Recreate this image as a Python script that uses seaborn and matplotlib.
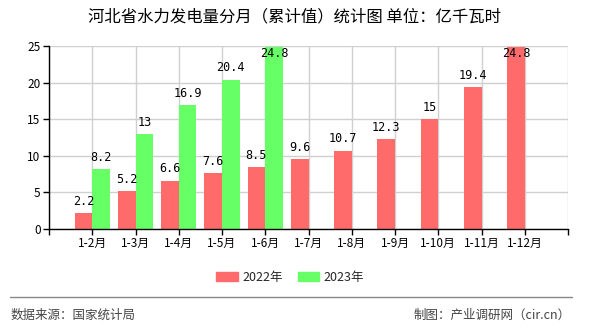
import matplotlib
matplotlib.use("Agg")
import matplotlib.pyplot as plt
from matplotlib.lines import Line2D
import seaborn as sns
import pandas as pd

periods = ["1-2月", "1-3月", "1-4月", "1-5月", "1-6月", "1-7月",
           "1-8月", "1-9月", "1-10月", "1-11月", "1-12月"]
values_2022 = [2.2, 5.2, 6.6, 7.6, 8.5, 9.6, 10.7, 12.3, 15, 19.4, 24.8]
values_2023 = [8.2, 13, 16.9, 20.4, 24.8]
series_names = ["2022年", "2023年"]
colors = ["#FF6A6A", "#66FF66"]

rows = []
for p, v in zip(periods, values_2022):
    rows.append({"period": p, "value": v, "year": series_names[0]})
for p, v in zip(periods, values_2023):
    rows.append({"period": p, "value": v, "year": series_names[1]})
df = pd.DataFrame(rows)

sns.set_theme(style="white")
plt.rcParams["font.family"] = ["Noto Sans CJK SC", "DejaVu Sans"]

fig = plt.figure(figsize=(5.9, 3.3), dpi=100)
ax = fig.add_axes([49 / 590, 1 - 229 / 330, (568 - 49) / 590, (229 - 46) / 330])

sns.barplot(data=df, x="period", y="value", hue="year", order=periods,
            hue_order=series_names, palette=colors, width=0.82,
            saturation=1, ax=ax, legend=False, zorder=3, linewidth=0,
            edgecolor="none")

# value labels above each bar, kept inside the plot area
for container, vals in zip(ax.containers, [values_2022, values_2023]):
    for rect, v in zip(container, vals):
        x = rect.get_x() + rect.get_width() / 2
        y = min(v + 1.6, 24.0)
        ax.text(x, y, f"{v:g}", ha="center", va="center", fontsize=8.5,
                color="black", zorder=4, family=["DejaVu Sans Mono"])

ax.set_xlim(-1, len(periods))
ax.set_ylim(0, 25)
ax.set_xticks(range(-1, len(periods) + 1))
ax.set_xticklabels([""] + periods + [""], fontsize=8.5)
ax.set_yticks([0, 5, 10, 15, 20, 25])
ax.set_yticklabels(["0", "5", "10", "15", "20", "25"], fontsize=8.5)
ax.set_xlabel("")
ax.set_ylabel("")
ax.grid(True, color="#D0D0D0", linewidth=1, zorder=0)
ax.set_axisbelow(True)
for side in ["top", "right"]:
    ax.spines[side].set_visible(False)
for side in ["left", "bottom"]:
    ax.spines[side].set_color("black")
    ax.spines[side].set_linewidth(1)
    ax.spines[side].set_zorder(5)
ax.tick_params(axis="both", direction="out", length=4, width=1,
               color="black", pad=2, labelcolor="black")
ax.tick_params(axis="x", bottom=True)
ax.tick_params(axis="y", left=True)

fig.text(295 / 590, 1 - 17 / 330, "河北省水力发电量分月（累计值）统计图 单位：亿千瓦时",
         ha="center", va="center", fontsize=11.8, color="black")

handles = [plt.Rectangle((0, 0), 1, 1, color=c) for c in colors]
fig.legend(handles, series_names, loc="center", ncol=2,
           bbox_to_anchor=(290 / 590, 1 - 277 / 330), frameon=False,
           fontsize=9, handlelength=1.75, handleheight=0.7,
           columnspacing=1.2, handletextpad=0.35)

fig.add_artist(Line2D([10 / 590, 572 / 590], [1 - 297 / 330] * 2,
                      color="#888888", linewidth=1))
fig.text(11 / 590, 1 - 315 / 330, "数据来源：国家统计局", ha="left",
         va="center", fontsize=9, color="#444444")
fig.text(571 / 590, 1 - 315 / 330, "制图：产业调研网（cir.cn）", ha="right",
         va="center", fontsize=9, color="#444444")

fig.savefig("out.png", dpi=100)
